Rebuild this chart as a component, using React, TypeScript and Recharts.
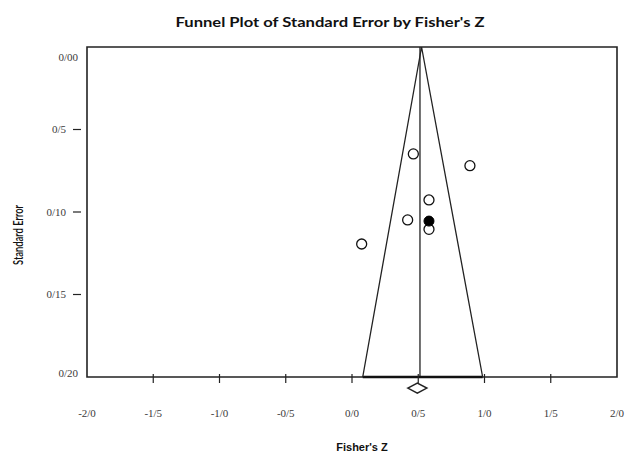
import React from "react";
import {
  ScatterChart,
  Scatter,
  XAxis,
  YAxis,
  ReferenceLine,
  ReferenceArea,
  ReferenceDot,
} from "recharts";

// observed studies (open circles)
const studyZ = [0.463, 0.89, 0.581, 0.42, 0.581, 0.073];
const studySE = [0.0648, 0.0719, 0.0927, 0.1048, 0.1105, 0.1194];
// imputed study (filled circle)
const imputedZ = [0.581];
const imputedSE = [0.1055];
// funnel outline: bottom-left, apex, bottom-right
const funnelZ = [0.081, 0.525, 0.986];
const funnelSE = [0.2, 0, 0.2];
const meanZ = 0.513;
const summaryZ = 0.493;
const summarySE = 0.2067;

const xTicks = [-2, -1.5, -1, -0.5, 0, 0.5, 1, 1.5, 2];
const xTickLabels = ["-2/0", "-1/5", "-1/0", "-0/5", "0/0", "0/5", "1/0", "1/5", "2/0"];
const yTicks = [0, 0.05, 0.1, 0.15, 0.2];
const yTickLabels = ["0/00", "0/5", "0/10", "0/15", "0/20"];

const studies = studyZ.map((z, i) => ({ z, se: studySE[i] }));
const imputed = imputedZ.map((z, i) => ({ z, se: imputedSE[i] }));
const funnel = funnelZ.map((z, i) => ({ z, se: funnelSE[i] }));

const tickFont = { fontFamily: "'Liberation Serif', serif", fontSize: 11, fill: "#3a3a3a" };

const XTick = (props: any) => {
  const { x, y, payload } = props;
  const i = xTicks.indexOf(payload.value);
  const inner = i > 0 && i < xTicks.length - 1;
  return (
    <g>
      {inner && <line x1={x} x2={x} y1={y - 3} y2={y + 6} stroke="#222" strokeWidth={1.2} />}
      <text x={x} y={y + 36} dy="0.35em" textAnchor="middle" {...tickFont}>
        {xTickLabels[i]}
      </text>
    </g>
  );
};

const YTick = (props: any) => {
  const { x, y, payload } = props;
  const i = yTicks.indexOf(payload.value);
  const end = i === 0 || i === yTicks.length - 1;
  const dy = i === 0 ? 10 : i === yTicks.length - 1 ? -4 : 0;
  return (
    <g>
      {!end && <line x1={x - 14} x2={x - 6} y1={y} y2={y} stroke="#222" strokeWidth={1.2} />}
      <text x={end ? x - 9 : x - 21} y={y + dy} dy="0.35em" textAnchor="end" {...tickFont}>
        {yTickLabels[i]}
      </text>
    </g>
  );
};

const openCircle = (p: any) => (
  <circle cx={p.cx} cy={p.cy} r={5} fill="#fff" stroke="#111" strokeWidth={1.3} />
);
const filledCircle = (p: any) => (
  <circle cx={p.cx} cy={p.cy} r={5} fill="#000" stroke="#000" strokeWidth={1} />
);
const diamond = (p: any) => (
  <polygon
    points={`${p.cx - 9.5},${p.cy} ${p.cx},${p.cy - 5} ${p.cx + 9.5},${p.cy} ${p.cx},${p.cy + 5}`}
    fill="#fff"
    stroke="#222"
    strokeWidth={1.5}
  />
);

export default function App() {
  return (
    <div style={{ position: "absolute", left: 0, top: 0, width: 626, height: 459, background: "#fff" }}>
      <ScatterChart width={626} height={459} margin={{ top: 47, right: 9, bottom: 0, left: 0 }}>
        <XAxis
          type="number"
          dataKey="z"
          domain={[-2, 2]}
          ticks={xTicks}
          interval={0}
          height={82}
          axisLine={false}
          tickLine={false}
          tickSize={0}
          tickMargin={0}
          tick={<XTick />}
        />
        <YAxis
          type="number"
          dataKey="se"
          domain={[0, 0.2]}
          reversed
          ticks={yTicks}
          interval={0}
          width={87}
          axisLine={false}
          tickLine={false}
          tickSize={0}
          tickMargin={0}
          tick={<YTick />}
        />
        <ReferenceArea x1={-2} x2={2} y1={0} y2={0.2} fill="none" stroke="#222" strokeWidth={1.6} />
        <ReferenceLine x={meanZ} stroke="#222" strokeWidth={1.3} />
        <ReferenceLine
          segment={[
            { x: funnelZ[0], y: 0.2 },
            { x: funnelZ[2], y: 0.2 },
          ]}
          stroke="#111"
          strokeWidth={2.5}
        />
        <Scatter
          data={funnel}
          line={{ stroke: "#222", strokeWidth: 1.3 }}
          shape={() => <g />}
          isAnimationActive={false}
        />
        <Scatter data={studies} shape={openCircle} isAnimationActive={false} />
        <Scatter data={imputed} shape={filledCircle} isAnimationActive={false} />
        <ReferenceDot x={summaryZ} y={summarySE} ifOverflow="visible" shape={diamond} />
      </ScatterChart>
      <svg
        width={626}
        height={459}
        style={{ position: "absolute", left: 0, top: 0, pointerEvents: "none" }}
      >
        <text
          x={330}
          y={22}
          dy="0.35em"
          textAnchor="middle"
          fontFamily="Lato, sans-serif"
          fontWeight="bold"
          fontSize={14}
          fill="#111"
          textLength={309}
          lengthAdjust="spacingAndGlyphs"
        >
          Funnel Plot of Standard Error by Fisher's Z
        </text>
        <text
          transform="translate(18,235) rotate(-90)"
          dy="0.35em"
          textAnchor="middle"
          fontFamily="Lato, sans-serif"
          fontWeight={600}
          fontSize={13}
          fill="#111"
          textLength={60}
          lengthAdjust="spacingAndGlyphs"
        >
          Standard Error
        </text>
        <text
          x={362}
          y={447}
          dy="0.35em"
          textAnchor="middle"
          fontFamily="'Liberation Sans', Arial, sans-serif"
          fontWeight="bold"
          fontSize={11}
          fill="#111"
        >
          Fisher's Z
        </text>
      </svg>
    </div>
  );
}
